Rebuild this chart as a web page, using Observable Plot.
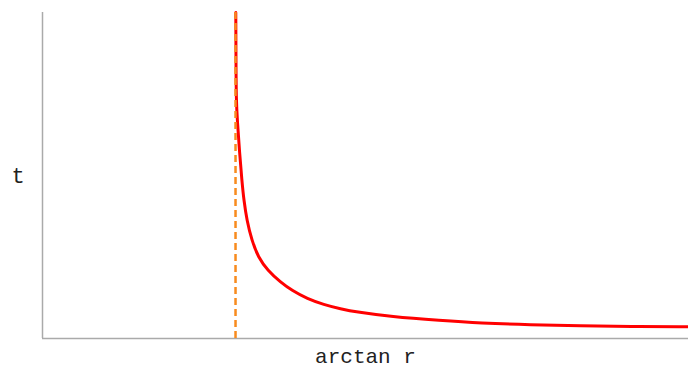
<!DOCTYPE html>
<html>
<head>
<meta charset="utf-8">
<script src="https://cdn.jsdelivr.net/npm/d3@7"></script>
<script src="https://cdn.jsdelivr.net/npm/@observablehq/plot@0.6"></script>
<style>
  html, body { margin: 0; padding: 0; background: #fff; }
  #chart svg { display: block; }
</style>
</head>
<body>
<div id="chart"></div>
<script>
// Curve (arbitrary units)
const arctanR = [2.992, 2.995, 2.999, 3.016, 3.048, 3.086, 3.118, 3.164, 3.240, 3.340, 3.486, 3.684, 3.865, 4.098, 4.354, 4.613, 4.871, 5.387, 6.161, 6.780, 7.554, 8.328, 9.102, 10.0];
const tValues = [10.0, 8.53, 7.30, 6.69, 5.77, 4.85, 4.23, 3.62, 3.01, 2.49, 2.09, 1.73, 1.47, 1.22, 1.04, 0.91, 0.81, 0.67, 0.55, 0.47, 0.42, 0.39, 0.37, 0.36];
const asymptote = [2.988];
const xLabel = "arctan r";
const yLabel = "t";

const curve = arctanR.map((x, i) => ({x, t: tValues[i]}));
const font = "'Liberation Mono', monospace";

const chart = Plot.plot({
  width: 688,
  height: 369,
  marginLeft: 42,
  marginRight: 0,
  marginTop: 12,
  marginBottom: 31,
  x: {domain: [0, 10], axis: null},
  y: {domain: [0, 10], axis: null},
  style: {fontFamily: font, background: "#fff"},
  marks: [
    Plot.ruleX([0], {stroke: "#aaa", strokeWidth: 1.5}),
    Plot.ruleY([0], {stroke: "#aaa", strokeWidth: 1.5}),
    Plot.line(curve, {x: "x", y: "t", stroke: "red", strokeWidth: 3, curve: "basis"}),
    Plot.ruleX(asymptote, {stroke: "#f88b1e", strokeWidth: 2.5, strokeDasharray: "7,4"}),
    Plot.text([xLabel], {frameAnchor: "bottom", lineAnchor: "middle", dy: 18, text: d => d, fontSize: 21, fill: "#222", fontFamily: font, letterSpacing: "1.8px"}),
    Plot.text([yLabel], {frameAnchor: "left", dx: -31, text: d => d, fontSize: 22, fill: "#222", fontFamily: font})
  ]
});
document.getElementById("chart").appendChild(chart);
</script>
</body>
</html>
